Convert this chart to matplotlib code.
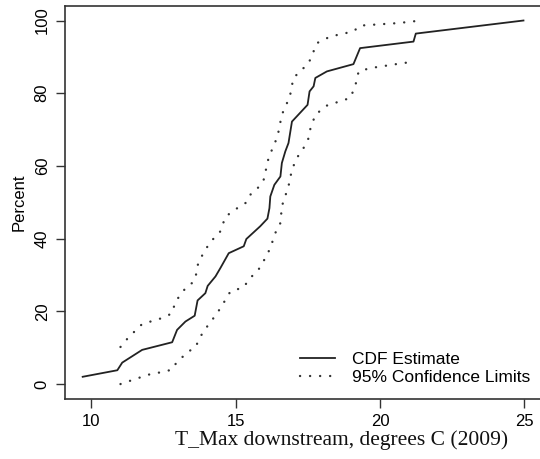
import matplotlib
matplotlib.use("Agg")
import matplotlib.pyplot as plt
from matplotlib.lines import Line2D

# CDF estimate of daily max water temperature, downstream site, 2009
cdf_x = [9.7, 10.9, 11.07, 11.76, 12.8, 12.97, 13.26, 13.58, 13.68, 13.95, 14.03,
         14.3, 14.47, 14.76, 15.28, 15.37, 15.85, 16.1, 16.17, 16.2, 16.34, 16.55,
         16.6, 16.72, 16.83, 16.95, 17.49, 17.56, 17.7, 17.76, 18.16, 19.08, 19.31,
         21.16, 21.24, 24.97]
cdf_y = [2, 3.8, 5.9, 9.4, 11.5, 14.9, 17.2, 18.8, 23, 25, 27,
         29.6, 31.9, 36, 37.9, 39.9, 43.4, 45.5, 48.4, 51.6, 54.8, 57.1,
         60.8, 64, 66.3, 72.2, 76.8, 80.5, 81.9, 84.2, 86, 88, 92.4,
         94.2, 96.4, 100]

# upper 95% confidence limit
upper_x = [11.01, 11.18, 11.55, 11.76, 12.51, 12.8, 12.91, 13.14, 13.26, 13.49,
           13.61, 13.66, 13.72, 13.95, 14.1, 14.3, 14.47, 14.64, 14.88, 15.34,
           15.51, 15.8, 15.97, 16.14, 16.26, 16.45, 16.6, 16.8, 16.89, 17.0,
           17.53, 17.82, 18.28, 19.08, 19.31, 20.64, 21.19]
upper_y = [10.2, 11.9, 14.9, 16.5, 18.3, 19.5, 22.7, 25, 26.4, 27.8,
           29.2, 31.9, 33.7, 36.9, 38.8, 40.6, 42, 45.9, 47.5, 49.8,
           52.1, 54.2, 56.2, 62.2, 64.5, 68.1, 74.1, 77.7, 79.6, 84.2,
           88.3, 93.8, 95.6, 97, 98.6, 99.3, 99.8]

# lower 95% confidence limit
lower_x = [11.01, 11.53, 11.99, 12.57, 12.8, 12.94, 13.15, 13.37, 13.6, 13.78,
           14.01, 14.36, 14.58, 14.82, 15.28, 15.45, 15.8, 16.03, 16.2, 16.37,
           16.55, 16.6, 16.83, 16.95, 17.12, 17.35, 17.53, 17.58, 17.76, 18.16,
           18.97, 19.14, 19.26, 19.66, 20.64, 21.19]
lower_y = [0, 1.4, 2.6, 3.5, 4.0, 5.8, 7.4, 9.0, 10.0, 13.1,
           15.8, 19.5, 22.3, 25.5, 26.6, 28.7, 31.6, 34.7, 37.4, 41.5,
           44.3, 48.9, 54.4, 59, 62.2, 64.9, 67.7, 70, 74.1, 76.6,
           78.7, 81.9, 86, 86.9, 88.1, 88.7]

x_ticks = [10, 15, 20, 25]
y_ticks = [0, 20, 40, 60, 80, 100]

sans = ["Liberation Sans", "DejaVu Sans"]
serif = ["Liberation Serif", "DejaVu Serif"]
ink = "#222222"

fig = plt.figure(figsize=(5.4, 4.59), dpi=100)
ax = fig.add_axes([0.1204, 0.1316, 0.8833, 0.8554])

ax.plot(cdf_x, cdf_y, color=ink, lw=1.3, solid_joinstyle="round")
dots = dict(color="#333333", lw=1.7, linestyle=(0, (0.05, 4.2)),
            dash_capstyle="round")
ax.plot(upper_x, upper_y, **dots)
ax.plot(lower_x, lower_y, **dots)

ax.set_xlim(9.088, 25.612)
ax.set_ylim(-4, 104)
ax.set_xticks(x_ticks)
ax.set_yticks(y_ticks)
ax.set_xticklabels([str(t) for t in x_ticks], family=sans, fontsize=12)
ax.set_yticklabels([str(t) for t in y_ticks], family=sans, fontsize=12,
                   rotation=90, va="center")
ax.tick_params(axis="both", length=6.5, width=1.0, color="#333333", pad=4.5)
for s in ax.spines.values():
    s.set_color("#333333")
    s.set_linewidth(1.2)

ax.set_ylabel("Percent", family=sans, fontsize=12, labelpad=6)
fig.text(0.632, 0.041, "T_Max downstream, degrees C (2009)", family=serif,
         fontsize=15.5, ha="center", va="center", color="#111111")

handles = [Line2D([], [], color=ink, lw=1.3),
           Line2D([], [], **dots)]
leg = ax.legend(handles, ["CDF Estimate", "95% Confidence Limits"],
                loc="lower right", frameon=False,
                prop={"family": sans, "size": 12.5},
                handlelength=2.0, handletextpad=1.0, labelspacing=0.15,
                bbox_to_anchor=(1.005, 0.0), borderaxespad=0.4)

fig.savefig("out.png", dpi=100)
